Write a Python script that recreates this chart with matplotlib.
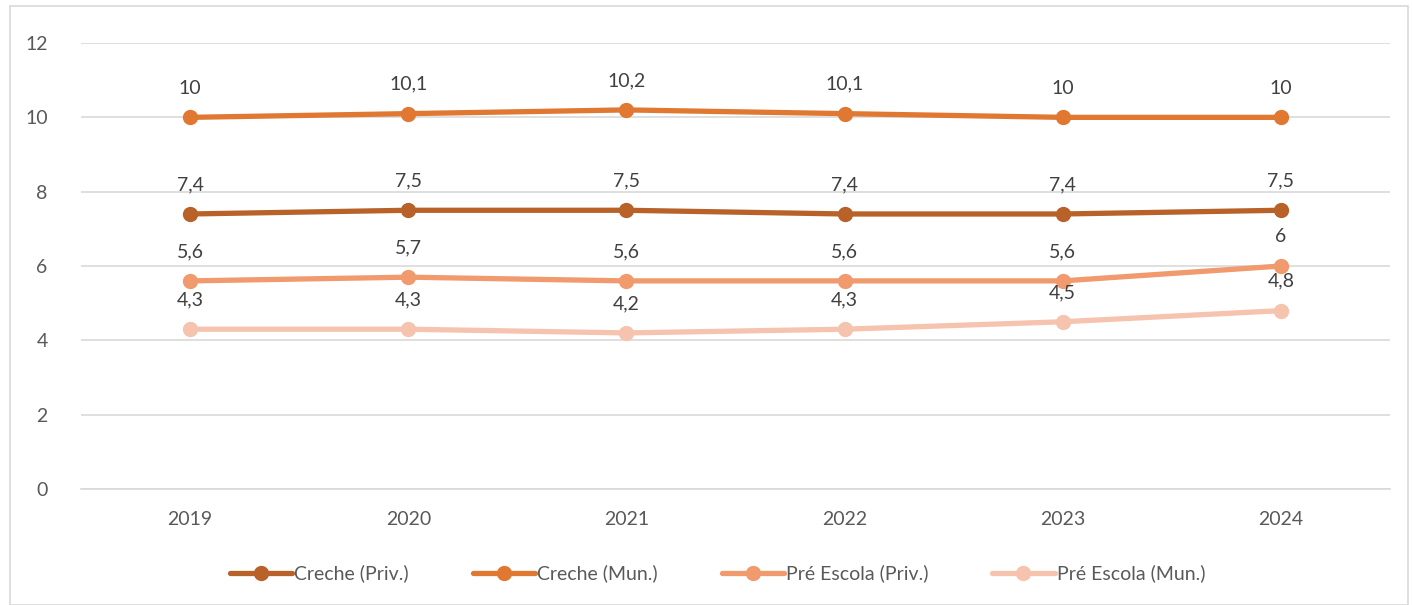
import matplotlib.pyplot as plt
from matplotlib.patches import Rectangle

years = ['2019', '2020', '2021', '2022', '2023', '2024']
creche_priv = [7.4, 7.5, 7.5, 7.4, 7.4, 7.5]
creche_mun = [10, 10.1, 10.2, 10.1, 10, 10]
pre_priv = [5.6, 5.7, 5.6, 5.6, 5.6, 6]
pre_mun = [4.3, 4.3, 4.2, 4.3, 4.5, 4.8]

series = [
    ('Creche (Priv.)', creche_priv, '#B86128'),
    ('Creche (Mun.)', creche_mun, '#E07832'),
    ('Pré Escola (Priv.)', pre_priv, '#F09A6E'),
    ('Pré Escola (Mun.)', pre_mun, '#F6C3AE'),
]

plt.rcParams['font.family'] = ['Lato', 'DejaVu Sans']

fig = plt.figure(figsize=(14.12, 6.05), dpi=100)
ax = fig.add_axes([0.0574, 0.1917, 0.927, 0.7372])

x = range(len(years))
for name, vals, col in series:
    ax.plot(x, vals, color=col, lw=3.8, marker='o', ms=10, label=name,
            solid_capstyle='round')
    for xi, v in zip(x, vals):
        lbl = ('%g' % v).replace('.', ',')
        ax.annotate(lbl, (xi, v), xytext=(0, 15), textcoords='offset points',
                    ha='center', va='bottom', fontsize=14, color='#404040')

ax.set_xlim(-0.5, 5.5)
ax.set_ylim(0, 12)
ax.set_yticks(range(0, 13, 2))
ax.set_xticks(list(x))
ax.set_xticklabels(years)
ax.grid(axis='y', color='#D9D9D9', lw=1.2)
ax.set_axisbelow(True)
for s in ['top', 'right', 'left']:
    ax.spines[s].set_visible(False)
ax.spines['bottom'].set_color('#D9D9D9')
ax.spines['bottom'].set_linewidth(1.2)
ax.tick_params(length=0, labelsize=14, labelcolor='#595959', pad=16)
ax.tick_params(axis='y', pad=24)

leg = fig.legend(loc='center', bbox_to_anchor=(0.508, 0.052), ncol=4,
                 frameon=False, fontsize=14, handlelength=3.2,
                 columnspacing=3.3, handletextpad=0.1)
for t in leg.get_texts():
    t.set_color('#595959')

fig.patches.append(Rectangle((0.007, 0.0), 0.99, 0.99, transform=fig.transFigure,
                             fill=False, edgecolor='#D9D9D9', lw=1.2))

fig.savefig('out.png', dpi=100)
